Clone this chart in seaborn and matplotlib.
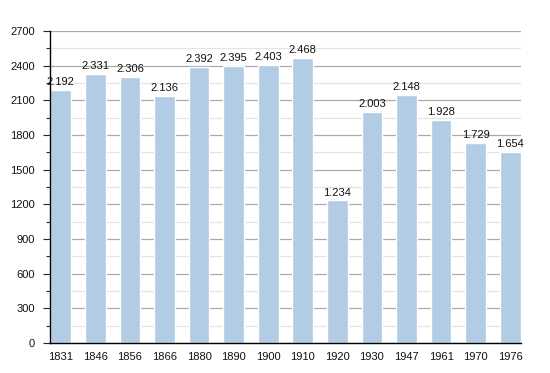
import matplotlib
matplotlib.use("Agg")
import matplotlib.pyplot as plt
import seaborn as sns
import pandas as pd
from matplotlib.ticker import MultipleLocator

years = ["1831", "1846", "1856", "1866", "1880", "1890", "1900", "1910",
         "1920", "1930", "1947", "1961", "1970", "1976"]
population = [2192, 2331, 2306, 2136, 2392, 2395, 2403, 2468,
              1234, 2003, 2148, 1928, 1729, 1654]
labels = ["2.192", "2.331", "2.306", "2.136", "2.392", "2.395", "2.403", "2.468",
          "1.234", "2.003", "2.148", "1.928", "1.729", "1.654"]

df = pd.DataFrame({"year": years, "pop": population})

sns.set_style("white")
plt.rcParams["font.family"] = ["Liberation Sans", "DejaVu Sans"]

fig = plt.figure(figsize=(5.5, 3.73), dpi=100)
ax = fig.add_axes([50 / 550, 30 / 373, 471 / 550, 312 / 373])

ax.set_axisbelow(True)
ax.yaxis.set_major_locator(MultipleLocator(300))
ax.yaxis.set_minor_locator(MultipleLocator(150))
ax.grid(which="major", axis="y", color="#aaaaaa", linewidth=0.9)
ax.grid(which="minor", axis="y", color="#e4e4e4", linewidth=0.9)

sns.barplot(data=df, x="year", y="pop", color="#b3cce6", saturation=1,
            width=0.6, ax=ax)

for i, (v, t) in enumerate(zip(population, labels)):
    ax.text(i, v + 25, t, ha="center", va="bottom", fontsize=8, color="#111111")

ax.set_ylim(0, 2700)
ax.set_xlim(-0.31, 13.31)
ax.set_xlabel("")
ax.set_ylabel("")
for s in ["top", "right"]:
    ax.spines[s].set_visible(False)
ax.spines["left"].set_color("black")
ax.spines["bottom"].set_color("black")
ax.spines["left"].set_linewidth(1)
ax.spines["bottom"].set_linewidth(1)
ax.tick_params(axis="y", which="major", left=True, length=5, width=0.8,
               labelsize=8, pad=6, labelcolor="#111111")
ax.tick_params(axis="y", which="minor", left=True, length=3, width=0.8)
ax.tick_params(axis="x", bottom=False, labelsize=8, pad=3, labelcolor="#111111")

fig.savefig("out.png", dpi=100)
